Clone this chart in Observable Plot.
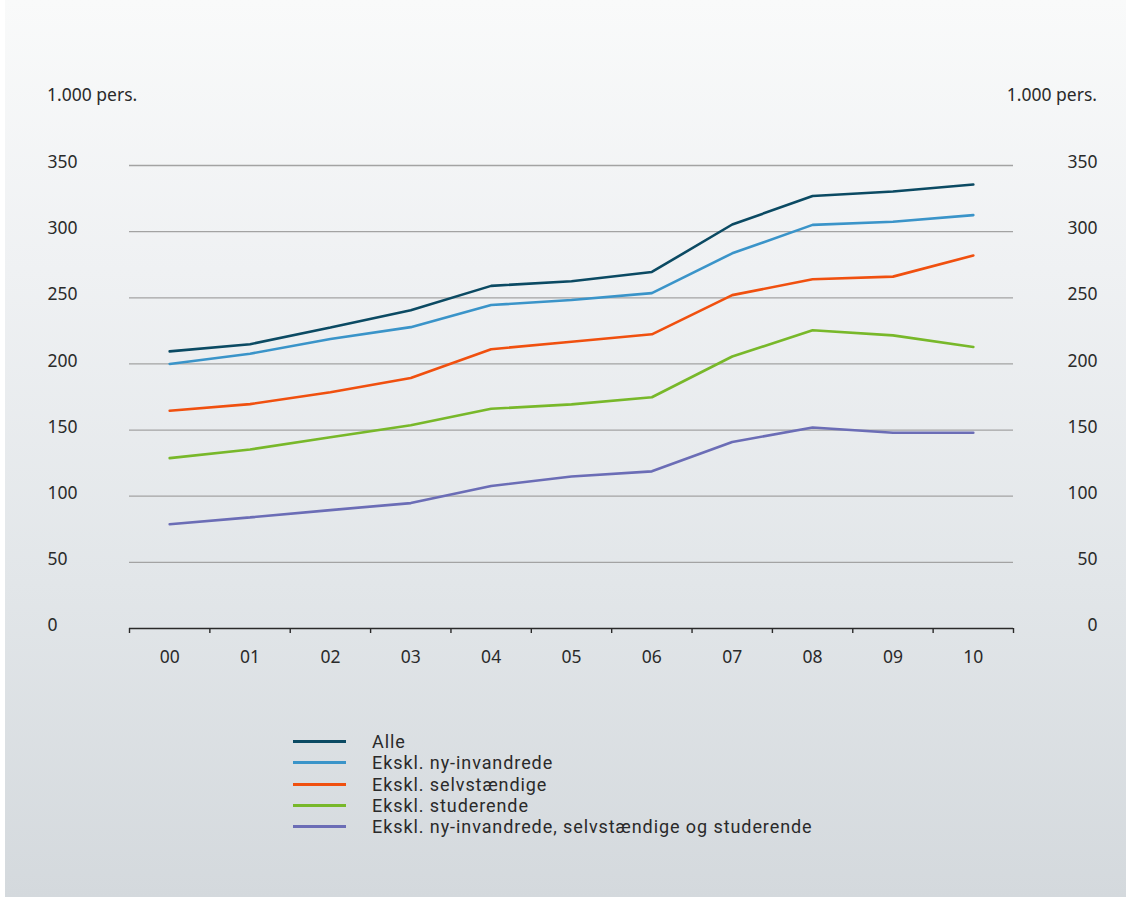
<!DOCTYPE html>
<html>
<head>
<meta charset="utf-8">
<script src="https://cdn.jsdelivr.net/npm/d3@7"></script>
<script src="https://cdn.jsdelivr.net/npm/@observablehq/plot@0.6"></script>
<style>
  html, body { margin: 0; padding: 0; background: #ffffff; }
  body { width: 1126px; height: 897px; overflow: hidden; font-family: "Noto Sans", "Open Sans", sans-serif; color: #2a2a2a; }
  #page { position: absolute; left: 5px; top: 0; width: 1121px; height: 897px;
          background: linear-gradient(to bottom, #f9fafa 0%, #eff1f3 30%, #e2e6e9 65%, #d4d9dd 100%); }
  #chart { position: absolute; left: 0; top: 0; }
  .unit { position: absolute; top: 82px; font-size: 17.5px; line-height: 24px; }
  #legend { position: absolute; left: 293px; top: 731px; font-family: Roboto, "Noto Sans", sans-serif; font-size: 18px; letter-spacing: 0.92px; }
  .item { display: flex; align-items: center; white-space: nowrap; height: 21.3px; }
  .sw { width: 53px; height: 3px; margin-right: 26px; flex: none; }
  .lab { display: block; height: 21.3px; line-height: 21.3px; overflow: visible; }
</style>
</head>
<body>
<div id="page"></div>
<div id="chart"></div>
<div class="unit" style="left:47px">1.000 pers.</div>
<div class="unit" style="right:29px">1.000 pers.</div>
<div id="legend"></div>
<script>
const years = ["00","01","02","03","04","05","06","07","08","09","10"];
const seriesNames = [
  "Alle",
  "Ekskl. ny-invandrede",
  "Ekskl. selvstændige",
  "Ekskl. studerende",
  "Ekskl. ny-invandrede, selvstændige og studerende"
];
const seriesColors = ["#0b4a63", "#3a94c9", "#f0500f", "#78b82a", "#6b6db6"];
const alle       = [209.5, 214.9, 227.6, 240.5, 259.0, 262.5, 269.5, 305.4, 326.9, 330.4, 335.6];
const nyInv      = [200.0, 207.7, 218.8, 227.8, 244.5, 248.3, 253.5, 283.6, 305.1, 307.5, 312.5];
const selvst     = [164.6, 169.6, 178.6, 189.3, 211.1, 216.8, 222.4, 252.0, 264.0, 266.0, 282.0];
const studer     = [128.8, 135.3, 144.6, 153.7, 166.1, 169.4, 174.8, 205.6, 225.5, 221.6, 212.8];
const kombineret = [ 78.8,  84.0,  89.5,  94.8, 107.7, 114.9, 118.8, 141.0, 152.0, 148.0, 148.0];
const yTicks = [0, 50, 100, 150, 200, 250, 300, 350];

const allSeries = [alle, nyInv, selvst, studer, kombineret];
const data = [];
allSeries.forEach((vals, s) => vals.forEach((v, i) => data.push({serie: seriesNames[s], i, v})));
const idx = years.map((_, i) => i);
const edges = d3.range(years.length + 1).map(i => i - 0.5);

const plot = Plot.plot({
  width: 1126,
  height: 700,
  marginTop: 165,
  marginBottom: 72,
  marginLeft: 129,
  marginRight: 113,
  style: { background: "transparent", fontFamily: "'Noto Sans', sans-serif", fontSize: "17.5px", color: "#2a2a2a", overflow: "visible" },
  x: { domain: [-0.5, 10.5] },
  y: { domain: [0, 350] },
  color: { domain: seriesNames, range: seriesColors },
  marks: [
    Plot.ruleY(yTicks.filter(t => t > 0), { x1: -0.5, x2: 10.5, stroke: "#a3a3a3", strokeWidth: 1.3 }),
    Plot.axisY(yTicks, { anchor: "left", tickSize: 0, tickPadding: 0, textAnchor: "start", dx: -82, dy: -3, label: null, fontSize: 17.5 }),
    Plot.axisY(yTicks, { anchor: "right", tickSize: 0, tickPadding: 0, textAnchor: "end", dx: 84, dy: -3, label: null, fontSize: 17.5 }),
    Plot.axisX(edges, { tickSize: 5, tickFormat: () => "", stroke: "#2a2a2a", strokeWidth: 1.4, label: null }),
    Plot.axisX(idx, { tickSize: 0, tickPadding: 22, tickFormat: i => years[i], label: null, fontSize: 17.5 }),
    Plot.ruleY([0], { x1: -0.5, x2: 10.5, stroke: "#2a2a2a", strokeWidth: 1.6 }),
    Plot.line(data, { x: "i", y: "v", z: "serie", stroke: "serie", strokeWidth: 2.6, strokeLinejoin: "miter" })
  ]
});
document.getElementById("chart").appendChild(plot);

const legend = document.getElementById("legend");
seriesNames.forEach((name, s) => {
  const row = document.createElement("div");
  row.className = "item";
  const sw = document.createElement("div");
  sw.className = "sw";
  sw.style.background = seriesColors[s];
  const label = document.createElement("div");
  label.className = "lab";
  label.textContent = name;
  row.appendChild(sw);
  row.appendChild(label);
  legend.appendChild(row);
});
</script>
</body>
</html>
